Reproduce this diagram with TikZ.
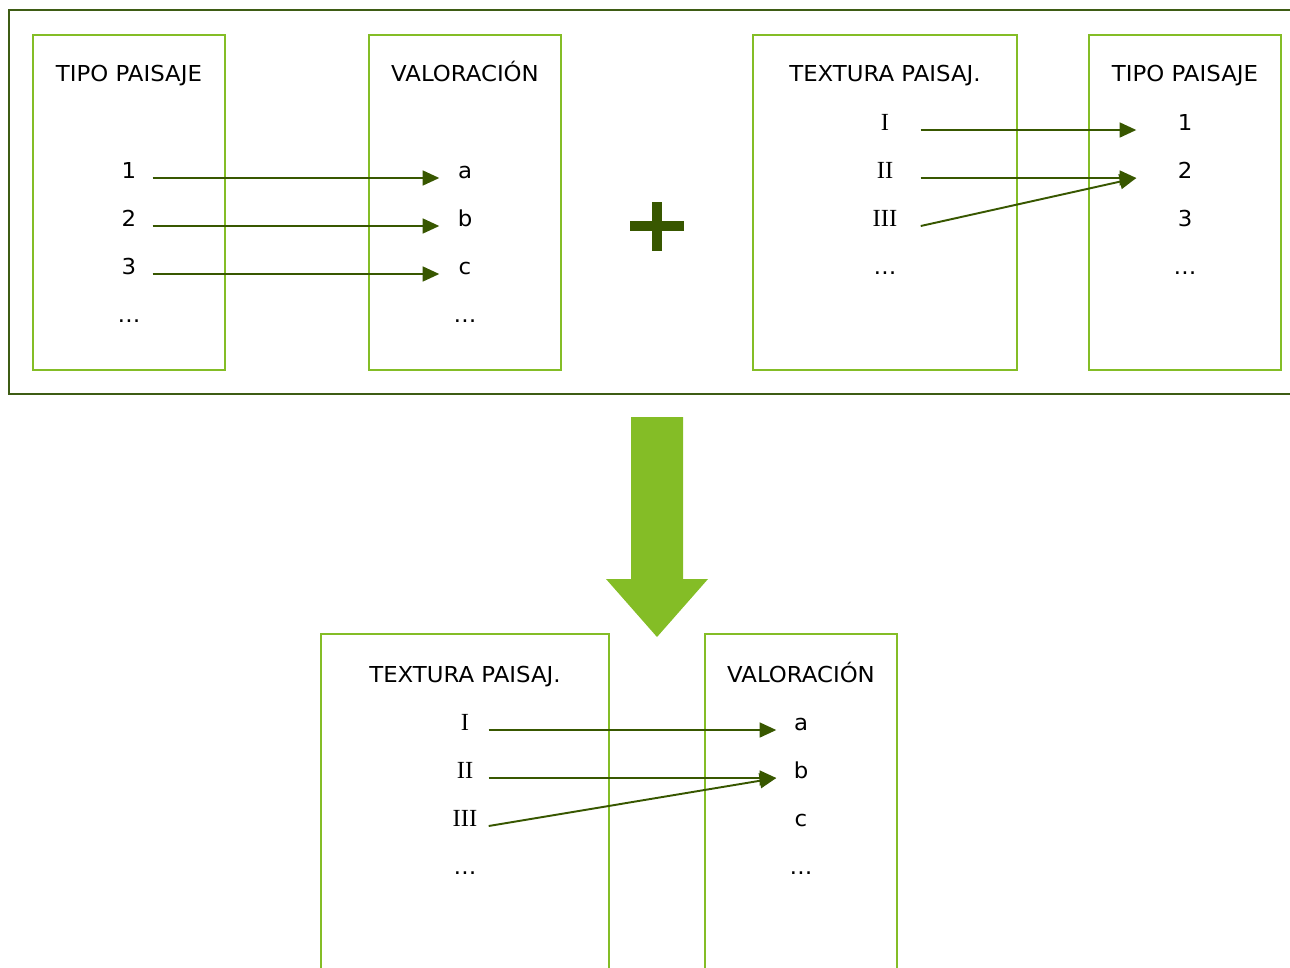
\documentclass[tikz,border=0pt]{standalone}
\usepackage{fontspec}
\setmainfont{DejaVu Sans}[FakeStretch=1.04]
\newfontfamily\romana{Liberation Serif}
\usetikzlibrary{arrows.meta}
\definecolor{verdeclaro}{RGB}{132,189,38}
\definecolor{verdeoscuro}{RGB}{56,87,0}
\definecolor{marco}{RGB}{62,92,20}

\begin{document}
\begin{tikzpicture}[x=0.02cm, y=-0.02cm, thick]

   \tikzstyle{caja}=[rectangle, draw=verdeclaro, line width=1.1pt, minimum width=3.84cm, minimum height=6.7cm]
   \tikzstyle{titulo}=[anchor=base, inner sep=0pt, font=\fontsize{12.5}{14}\selectfont]
   \tikzstyle{elem}=[anchor=base, inner sep=0pt, font=\fontsize{12.5}{14}\selectfont]
   \tikzstyle{num}=[anchor=base, inner sep=0pt, font=\fontsize{14}{16}\selectfont\romana]
   \tikzstyle{flecha}=[-{Triangle[length=9.5pt, width=8.5pt]}, verdeoscuro, line width=1.1pt]

   \useasboundingbox (0,0) rectangle (1290,967);
   \clip (0,0) rectangle (1290,967);

   % marco superior
   \draw[marco, line width=1.1pt] (9,10) rectangle (1300,394);

   % cajas
   \node[caja] (c1) at (129,202.5) {};
   \node[caja] (c2) at (465,202.5) {};
   \node[caja, minimum width=5.28cm] (c3) at (885,202.5) {};
   \node[caja] (c4) at (1185,202.5) {};
   \node[caja, minimum width=5.76cm, minimum height=7.32cm] (c5) at (465,817) {};
   \node[caja, minimum height=7.32cm] (c6) at (801,817) {};

   % titulos
   \node[titulo] (t1) at (129,81.5) {TIPO PAISAJE};
   \node[titulo] (t2) at (465,81.5) {VALORACIÓN};
   \node[titulo] (t3) at (885,81.5) {TEXTURA PAISAJ.};
   \node[titulo] (t4) at (1185,81.5) {TIPO PAISAJE};
   \node[titulo] (t5) at (465,682.5) {TEXTURA PAISAJ.};
   \node[titulo] (t6) at (801,682.5) {VALORACIÓN};

   % tipo paisaje -> valoracion
   \node[elem, minimum width=0.92cm] (p1) at (129,178) {1};
   \node[elem, minimum width=0.92cm] (p2) at (129,226) {2};
   \node[elem, minimum width=0.92cm] (p3) at (129,274) {3};
   \node[elem] (p4) at (129,322) {…};

   \node[elem, minimum width=1.0cm] (va) at (465,178) {a};
   \node[elem, minimum width=1.0cm] (vb) at (465,226) {b};
   \node[elem, minimum width=1.0cm] (vc) at (465,274) {c};
   \node[elem] (vd) at (465,322) {…};

   \draw[flecha] (p1.base east) -- (va.base west);
   \draw[flecha] (p2.base east) -- (vb.base west);
   \draw[flecha] (p3.base east) -- (vc.base west);

   % signo mas
   \fill[verdeoscuro] (630,221) rectangle (684,231);
   \fill[verdeoscuro] (652,202) rectangle (662,251);

   % textura -> tipo paisaje
   \node[num, minimum width=1.4cm] (x1) at (885,130) {I};
   \node[num, minimum width=1.4cm] (x2) at (885,178) {II};
   \node[num, minimum width=1.4cm] (x3) at (885,226) {III};
   \node[elem] (x4) at (885,274) {…};

   \node[elem, minimum width=1.92cm] (q1) at (1185,130) {1};
   \node[elem, minimum width=1.92cm] (q2) at (1185,178) {2};
   \node[elem, minimum width=1.92cm] (q3) at (1185,226) {3};
   \node[elem] (q4) at (1185,274) {…};

   \draw[flecha] (x1.base east) -- (q1.base west);
   \draw[flecha] (x2.base east) -- (q2.base west);
   \draw[flecha] (x3.base east) -- (q2.base west);

   % flecha grande
   \fill[verdeclaro] (631,417) -- (683,417) -- (683,579) -- (708,579) -- (657,637) -- (606,579) -- (631,579) -- cycle;

   % textura -> valoracion
   \node[num, minimum width=0.92cm] (y1) at (465,730) {I};
   \node[num, minimum width=0.92cm] (y2) at (465,778) {II};
   \node[num, minimum width=0.92cm] (y3) at (465,826) {III};
   \node[elem] (y4) at (465,874) {…};

   \node[elem, minimum width=0.96cm] (wa) at (801,730) {a};
   \node[elem, minimum width=0.96cm] (wb) at (801,778) {b};
   \node[elem, minimum width=0.96cm] (wc) at (801,826) {c};
   \node[elem] (wd) at (801,874) {…};

   \draw[flecha] (y1.base east) -- (wa.base west);
   \draw[flecha] (y2.base east) -- (wb.base west);
   \draw[flecha] (y3.base east) -- (wb.base west);

\end{tikzpicture}
\end{document}
